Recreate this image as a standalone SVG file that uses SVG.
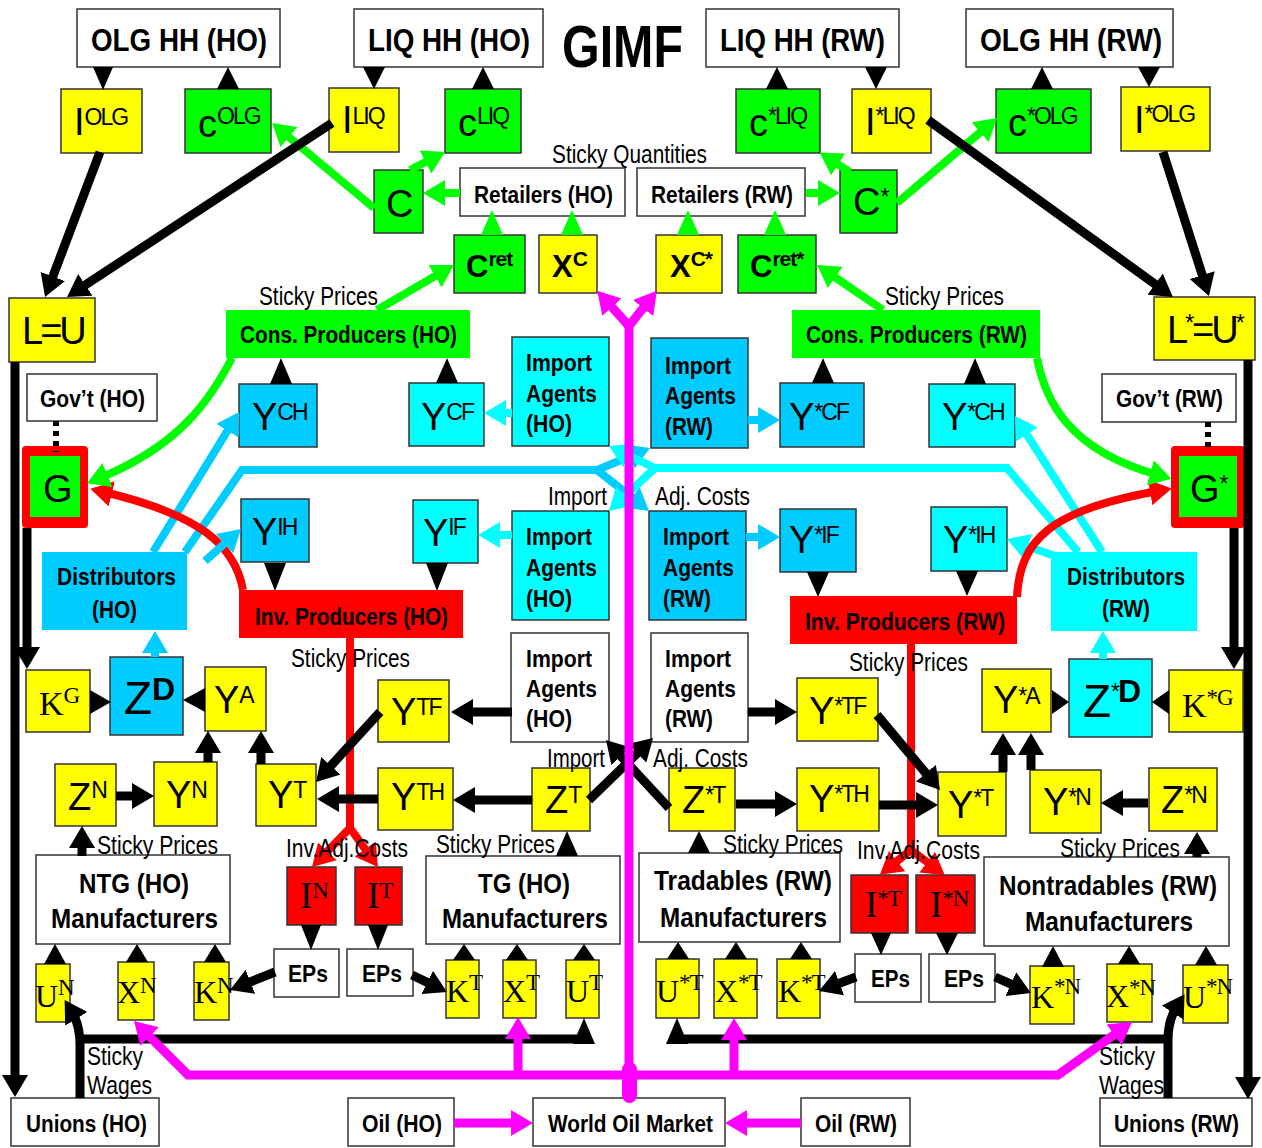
<svg xmlns="http://www.w3.org/2000/svg" width="1262" height="1148" viewBox="0 0 1262 1148">
<defs>
<style>
.bx{stroke:#333;stroke-width:1.5}
.y{fill:#ff0}.g{fill:#0f0}.b{fill:#0cf}.c{fill:#0ff}.w{fill:#fff}.r{fill:#f00}
text{font-family:"Liberation Sans",Arial,sans-serif;fill:#000}
.hh{font-weight:bold;font-size:32px}
.hb{font-weight:bold;font-size:24px}
.hm{font-weight:bold;font-size:27px}
.lb{font-size:25px}
.m{font-size:38px}
.s{font-size:23px;letter-spacing:-2px}
.mb{font-size:31px;font-weight:bold}
.sb{font-size:21px;font-weight:bold;letter-spacing:-1px}
.sf{font-family:"Liberation Serif","Times New Roman",serif}
.ms{font-size:32px}
.ss{font-size:23px;letter-spacing:-1px}
.k{stroke:#000;stroke-width:9;fill:none}
.kg{stroke:#0f0;stroke-width:8;fill:none}
.kb{stroke:#0cf;stroke-width:8;fill:none}
.kc{stroke:#0ff;stroke-width:8;fill:none}
.kr{stroke:#f00;stroke-width:8;fill:none}
.km{stroke:#f0f;stroke-width:9;fill:none}
</style>
<marker id="ak" markerUnits="userSpaceOnUse" viewBox="0 0 22 26" markerWidth="22" markerHeight="26" refX="8" refY="13" orient="auto"><path d="M0,0L22,13L0,26z" fill="#000"/></marker>
<marker id="ag" markerUnits="userSpaceOnUse" viewBox="0 0 22 26" markerWidth="22" markerHeight="26" refX="8" refY="13" orient="auto"><path d="M0,0L22,13L0,26z" fill="#0f0"/></marker>
<marker id="ab" markerUnits="userSpaceOnUse" viewBox="0 0 22 26" markerWidth="22" markerHeight="26" refX="8" refY="13" orient="auto"><path d="M0,0L22,13L0,26z" fill="#0cf"/></marker>
<marker id="ac" markerUnits="userSpaceOnUse" viewBox="0 0 22 26" markerWidth="22" markerHeight="26" refX="8" refY="13" orient="auto"><path d="M0,0L22,13L0,26z" fill="#0ff"/></marker>
<marker id="ar" markerUnits="userSpaceOnUse" viewBox="0 0 22 26" markerWidth="22" markerHeight="26" refX="8" refY="13" orient="auto"><path d="M0,0L22,13L0,26z" fill="#f00"/></marker>
<marker id="am" markerUnits="userSpaceOnUse" viewBox="0 0 22 26" markerWidth="22" markerHeight="26" refX="8" refY="13" orient="auto"><path d="M0,0L22,13L0,26z" fill="#f0f"/></marker>
</defs>
<rect width="1262" height="1148" fill="#fff"/>

<g id="nodes">
<g id="olg_ho"><rect class="bx w" x="77" y="9" width="203" height="58"/><text class="hh" x="91" y="51" textLength="176" lengthAdjust="spacingAndGlyphs">OLG HH (HO)</text></g>
<g id="liq_ho"><rect class="bx w" x="354" y="9" width="189" height="58"/><text class="hh" x="368" y="51" textLength="162" lengthAdjust="spacingAndGlyphs">LIQ HH (HO)</text></g>
<g id="title"><text x="562" y="67" font-size="60" font-weight="bold" textLength="121" lengthAdjust="spacingAndGlyphs">GIMF</text></g>
<g id="liq_rw"><rect class="bx w" x="706" y="9" width="193" height="58"/><text class="hh" x="720" y="51" textLength="165" lengthAdjust="spacingAndGlyphs">LIQ HH (RW)</text></g>
<g id="olg_rw"><rect class="bx w" x="966" y="9" width="207" height="58"/><text class="hh" x="980" y="51" textLength="182" lengthAdjust="spacingAndGlyphs">OLG HH (RW)</text></g>

<g id="i_olg"><rect class="bx y" x="61" y="89" width="81" height="64"/><text class="m" x="74" y="135">I<tspan class="s" dy="-10">OLG</tspan></text></g>
<g id="c_olg"><rect class="bx g" x="185" y="89" width="86" height="64"/><text class="m" x="198" y="137">c<tspan class="s" dy="-13">OLG</tspan></text></g>
<g id="i_liq"><rect class="bx y" x="329" y="88" width="70" height="64"/><text class="m" x="342" y="133">I<tspan class="s" dy="-9">LIQ</tspan></text></g>
<g id="c_liq"><rect class="bx g" x="445" y="89" width="76" height="64"/><text class="m" x="458" y="136">c<tspan class="s" dy="-12">LIQ</tspan></text></g>
<g id="c_sliq"><rect class="bx g" x="736" y="89" width="84" height="64"/><text class="m" x="749" y="136">c<tspan class="s" dy="-12">*LIQ</tspan></text></g>
<g id="i_sliq"><rect class="bx y" x="852" y="89" width="79" height="64"/><text class="m" x="865" y="135">I<tspan class="s" dy="-11">*LIQ</tspan></text></g>
<g id="c_solg"><rect class="bx g" x="996" y="89" width="95" height="64"/><text class="m" x="1008" y="136">c<tspan class="s" dy="-12">*OLG</tspan></text></g>
<g id="i_solg"><rect class="bx y" x="1121" y="87" width="89" height="64"/><text class="m" x="1134" y="133">I<tspan class="s" dy="-11">*OLG</tspan></text></g>

<g id="c_ho"><rect class="bx g" x="374" y="170" width="49" height="63"/><text class="m" x="386" y="217">C</text></g>
<g id="c_rw"><rect class="bx g" x="840" y="170" width="57" height="63"/><text class="m" x="853" y="215">C<tspan class="s" dy="-10">*</tspan></text></g>
<g id="ret_ho"><rect class="bx w" x="460" y="168" width="165" height="48"/><text class="hb" font-size="25" x="474" y="203" textLength="139" lengthAdjust="spacingAndGlyphs">Retailers (HO)</text></g>
<g id="ret_rw"><rect class="bx w" x="637" y="168" width="168" height="48"/><text class="hb" font-size="25" x="651" y="203" textLength="142" lengthAdjust="spacingAndGlyphs">Retailers (RW)</text></g>
<g id="cret"><rect class="bx g" x="454" y="235" width="71" height="58"/><text class="mb" x="466" y="277">C<tspan class="sb" dy="-11">ret</tspan></text></g>
<g id="xc"><rect class="bx y" x="539" y="235" width="58" height="58"/><text class="mb" x="552" y="277">X<tspan class="sb" dy="-11">C</tspan></text></g>
<g id="xcs"><rect class="bx y" x="656" y="235" width="66" height="58"/><text class="mb" x="670" y="277">X<tspan class="sb" dy="-11">C*</tspan></text></g>
<g id="crets"><rect class="bx g" x="738" y="235" width="78" height="58"/><text class="mb" x="750" y="277">C<tspan class="sb" dy="-11">ret*</tspan></text></g>

<g id="cons_ho"><rect class="g" x="226" y="310" width="244" height="48"/><text class="hb" x="240" y="343" textLength="217" lengthAdjust="spacingAndGlyphs">Cons. Producers (HO)</text></g>
<g id="cons_rw"><rect class="g" x="792" y="310" width="248" height="48"/><text class="hb" x="806" y="343" textLength="221" lengthAdjust="spacingAndGlyphs">Cons. Producers (RW)</text></g>
<g id="lu_ho"><rect class="bx y" x="9" y="298" width="86" height="64"/><text class="m" x="22" y="344" letter-spacing="-3">L=U</text></g>
<g id="lu_rw"><rect class="bx y" x="1154" y="297" width="101" height="63"/><text class="m" x="1167" y="343" letter-spacing="-3">L<tspan class="s" dy="-12">*</tspan><tspan dy="12">=U</tspan><tspan class="s" dy="-12">*</tspan></text></g>

<g id="gov_ho"><rect class="bx w" x="27" y="374" width="130" height="47"/><text class="hb" x="40" y="407" textLength="105" lengthAdjust="spacingAndGlyphs">Gov’t (HO)</text></g>
<g id="gov_rw"><rect class="bx w" x="1102" y="374" width="134" height="48"/><text class="hb" x="1116" y="407" textLength="107" lengthAdjust="spacingAndGlyphs">Gov’t (RW)</text></g>
<g id="g_ho"><rect class="r" x="22" y="446" width="66" height="82" rx="4"/><rect class="g" x="30" y="456" width="50" height="61"/><text class="m" x="43" y="502">G</text></g>
<g id="g_rw"><rect class="r" x="1171" y="446" width="74" height="82" rx="4"/><rect class="g" x="1179" y="456" width="58" height="61"/><text class="m" x="1190" y="502">G<tspan class="s" dy="-10">*</tspan></text></g>

<g id="ych"><rect class="bx b" x="239" y="384" width="78" height="63"/><text class="m" x="252" y="430">Y<tspan class="s" dy="-10">CH</tspan></text></g>
<g id="ycf"><rect class="bx c" x="409" y="383" width="75" height="63"/><text class="m" x="421" y="430">Y<tspan class="s" dy="-10">CF</tspan></text></g>
<g id="ia_ho1"><rect class="bx c" x="512" y="337" width="97" height="109"/><text class="hb" x="526" y="371" textLength="66" lengthAdjust="spacingAndGlyphs">Import</text><text class="hb" x="526" y="402" textLength="71" lengthAdjust="spacingAndGlyphs">Agents</text><text class="hb" x="526" y="432" textLength="46" lengthAdjust="spacingAndGlyphs">(HO)</text></g>
<g id="ia_rw1"><rect class="bx b" x="651" y="338" width="97" height="110"/><text class="hb" x="665" y="374" textLength="66" lengthAdjust="spacingAndGlyphs">Import</text><text class="hb" x="665" y="404" textLength="71" lengthAdjust="spacingAndGlyphs">Agents</text><text class="hb" x="665" y="435" textLength="48" lengthAdjust="spacingAndGlyphs">(RW)</text></g>
<g id="yscf"><rect class="bx b" x="780" y="383" width="84" height="64"/><text class="m" x="789" y="430">Y<tspan class="s" dy="-10">*CF</tspan></text></g>
<g id="ysch"><rect class="bx c" x="929" y="384" width="86" height="63"/><text class="m" x="942" y="430">Y<tspan class="s" dy="-10">*CH</tspan></text></g>

<g id="dist_ho"><rect class="b" x="42" y="552" width="145" height="78"/><text class="hb" x="57" y="585" textLength="119" lengthAdjust="spacingAndGlyphs">Distributors</text><text class="hb" x="92" y="618" textLength="45" lengthAdjust="spacingAndGlyphs">(HO)</text></g>
<g id="yih"><rect class="bx b" x="241" y="499" width="68" height="63"/><text class="m" x="252" y="545">Y<tspan class="s" dy="-10">IH</tspan></text></g>
<g id="yif"><rect class="bx c" x="413" y="500" width="65" height="63"/><text class="m" x="423" y="546">Y<tspan class="s" dy="-11">IF</tspan></text></g>
<g id="ia_ho2"><rect class="bx c" x="512" y="511" width="97" height="109"/><text class="hb" x="526" y="545" textLength="66" lengthAdjust="spacingAndGlyphs">Import</text><text class="hb" x="526" y="576" textLength="71" lengthAdjust="spacingAndGlyphs">Agents</text><text class="hb" x="526" y="607" textLength="46" lengthAdjust="spacingAndGlyphs">(HO)</text></g>
<g id="ia_rw2"><rect class="bx b" x="649" y="511" width="97" height="109"/><text class="hb" x="663" y="545" textLength="66" lengthAdjust="spacingAndGlyphs">Import</text><text class="hb" x="663" y="576" textLength="71" lengthAdjust="spacingAndGlyphs">Agents</text><text class="hb" x="663" y="607" textLength="48" lengthAdjust="spacingAndGlyphs">(RW)</text></g>
<g id="ysif"><rect class="bx b" x="780" y="509" width="76" height="63"/><text class="m" x="789" y="553">Y<tspan class="s" dy="-10">*IF</tspan></text></g>
<g id="ysih"><rect class="bx c" x="931" y="507" width="76" height="64"/><text class="m" x="943" y="553">Y<tspan class="s" dy="-10">*IH</tspan></text></g>
<g id="dist_rw"><rect class="c" x="1051" y="552" width="146" height="79"/><text class="hb" x="1067" y="585" textLength="118" lengthAdjust="spacingAndGlyphs">Distributors</text><text class="hb" x="1102" y="617" textLength="48" lengthAdjust="spacingAndGlyphs">(RW)</text></g>
<g id="inv_ho"><rect class="r" x="239" y="590" width="224" height="48"/><text class="hb" x="255" y="625" textLength="193" lengthAdjust="spacingAndGlyphs">Inv. Producers (HO)</text></g>
<g id="inv_rw"><rect class="r" x="790" y="596" width="227" height="48"/><text class="hb" x="805" y="630" textLength="200" lengthAdjust="spacingAndGlyphs">Inv. Producers (RW)</text></g>

<g id="kg"><rect class="bx y" x="26" y="670" width="64" height="62"/><text class="sf" font-size="34" x="39" y="715">K<tspan class="ss" font-size="25" dy="-12">G</tspan></text></g>
<g id="zd"><rect class="bx b" x="110" y="657" width="73" height="78"/><text font-size="46" x="124" y="714">Z<tspan font-size="32" font-weight="bold" dy="-14">D</tspan></text></g>
<g id="ya"><rect class="bx y" x="205" y="667" width="61" height="64"/><text class="m" x="214" y="713">Y<tspan class="s" dy="-10">A</tspan></text></g>
<g id="ytf"><rect class="bx y" x="378" y="680" width="71" height="62"/><text class="m" x="391" y="725">Y<tspan class="s" dy="-10">TF</tspan></text></g>
<g id="ia_ho3"><rect class="bx w" x="511" y="633" width="98" height="109"/><text class="hb" x="526" y="667" textLength="66" lengthAdjust="spacingAndGlyphs">Import</text><text class="hb" x="526" y="697" textLength="71" lengthAdjust="spacingAndGlyphs">Agents</text><text class="hb" x="526" y="727" textLength="46" lengthAdjust="spacingAndGlyphs">(HO)</text></g>
<g id="ia_rw3"><rect class="bx w" x="651" y="633" width="97" height="109"/><text class="hb" x="665" y="667" textLength="66" lengthAdjust="spacingAndGlyphs">Import</text><text class="hb" x="665" y="697" textLength="71" lengthAdjust="spacingAndGlyphs">Agents</text><text class="hb" x="665" y="727" textLength="48" lengthAdjust="spacingAndGlyphs">(RW)</text></g>
<g id="ystf"><rect class="bx y" x="797" y="678" width="81" height="63"/><text class="m" x="809" y="724">Y<tspan class="s" dy="-10">*TF</tspan></text></g>
<g id="ysa"><rect class="bx y" x="982" y="669" width="69" height="63"/><text class="m" x="993" y="713">Y<tspan class="s" dy="-9">*A</tspan></text></g>
<g id="zsd"><rect class="bx c" x="1069" y="659" width="83" height="78"/><text font-size="46" x="1083" y="717">Z<tspan class="s" dy="-17">*</tspan><tspan font-size="32" font-weight="bold" dy="2">D</tspan></text></g>
<g id="ksg"><rect class="bx y" x="1169" y="670" width="74" height="62"/><text class="sf" font-size="34" x="1182" y="717">K<tspan class="ss" font-size="25" dy="-12">*G</tspan></text></g>

<g id="zn"><rect class="bx y" x="55" y="764" width="61" height="62"/><text class="m" x="68" y="810">Z<tspan class="s" dy="-12">N</tspan></text></g>
<g id="yn"><rect class="bx y" x="154" y="762" width="63" height="64"/><text class="m" x="166" y="808">Y<tspan class="s" dy="-10">N</tspan></text></g>
<g id="yt"><rect class="bx y" x="256" y="764" width="60" height="62"/><text class="m" x="268" y="808">Y<tspan class="s" dy="-10">T</tspan></text></g>
<g id="yth"><rect class="bx y" x="378" y="768" width="75" height="62"/><text class="m" x="391" y="810">Y<tspan class="s" dy="-10">TH</tspan></text></g>
<g id="zt"><rect class="bx y" x="532" y="768" width="58" height="63"/><text class="m" x="545" y="813">Z<tspan class="s" dy="-10">T</tspan></text></g>
<g id="zst"><rect class="bx y" x="669" y="768" width="66" height="63"/><text class="m" x="682" y="813">Z<tspan class="s" dy="-10">*T</tspan></text></g>
<g id="ysth"><rect class="bx y" x="797" y="768" width="82" height="63"/><text class="m" x="809" y="812">Y<tspan class="s" dy="-10">*TH</tspan></text></g>
<g id="yst"><rect class="bx y" x="938" y="772" width="68" height="64"/><text class="m" x="948" y="818">Y<tspan class="s" dy="-12">*T</tspan></text></g>
<g id="ysn"><rect class="bx y" x="1030" y="770" width="71" height="63"/><text class="m" x="1043" y="815">Y<tspan class="s" dy="-10">*N</tspan></text></g>
<g id="zsn"><rect class="bx y" x="1149" y="768" width="68" height="63"/><text class="m" x="1161" y="813">Z<tspan class="s" dy="-10">*N</tspan></text></g>

<g id="ntg"><rect class="bx w" x="36" y="855" width="194" height="89"/><text class="hm" x="79" y="893" textLength="110" lengthAdjust="spacingAndGlyphs">NTG (HO)</text><text class="hm" x="51" y="928" textLength="167" lengthAdjust="spacingAndGlyphs">Manufacturers</text></g>
<g id="tg"><rect class="bx w" x="426" y="856" width="194" height="88"/><text class="hm" x="478" y="893" textLength="92" lengthAdjust="spacingAndGlyphs">TG (HO)</text><text class="hm" x="442" y="928" textLength="166" lengthAdjust="spacingAndGlyphs">Manufacturers</text></g>
<g id="trad"><rect class="bx w" x="639" y="853" width="201" height="89"/><text class="hm" x="654" y="890" textLength="178" lengthAdjust="spacingAndGlyphs">Tradables (RW)</text><text class="hm" x="660" y="927" textLength="167" lengthAdjust="spacingAndGlyphs">Manufacturers</text></g>
<g id="nontrad"><rect class="bx w" x="984" y="857" width="245" height="89"/><text class="hm" x="999" y="895" textLength="218" lengthAdjust="spacingAndGlyphs">Nontradables (RW)</text><text class="hm" x="1025" y="931" textLength="168" lengthAdjust="spacingAndGlyphs">Manufacturers</text></g>

<g id="in"><rect class="bx r" x="287" y="867" width="49" height="58"/><text class="sf" font-size="37" x="300" y="908">I<tspan class="ss" dy="-10">N</tspan></text></g>
<g id="it"><rect class="bx r" x="355" y="867" width="47" height="58"/><text class="sf" font-size="37" x="367" y="908">I<tspan class="ss" dy="-10">T</tspan></text></g>
<g id="ist"><rect class="bx r" x="851" y="875" width="57" height="58"/><text class="sf" font-size="37" x="865" y="917">I<tspan class="ss" dy="-11">*T</tspan></text></g>
<g id="isn"><rect class="bx r" x="916" y="875" width="59" height="58"/><text class="sf" font-size="37" x="930" y="917">I<tspan class="ss" dy="-11">*N</tspan></text></g>

<g id="un"><rect class="bx y" x="36" y="964" width="34" height="58"/><text class="sf ms" x="35" y="1007">U<tspan class="ss" dy="-12">N</tspan></text></g>
<g id="xn"><rect class="bx y" x="118" y="962" width="36" height="58"/><text class="sf ms" x="117" y="1003">X<tspan class="ss" dy="-10">N</tspan></text></g>
<g id="kn"><rect class="bx y" x="194" y="962" width="35" height="58"/><text class="sf ms" x="194" y="1003">K<tspan class="ss" dy="-10">N</tspan></text></g>
<g id="eps1"><rect class="bx w" x="274" y="949" width="65" height="48"/><text class="hb" x="288" y="982" textLength="40" lengthAdjust="spacingAndGlyphs">EPs</text></g>
<g id="eps2"><rect class="bx w" x="347" y="949" width="66" height="47"/><text class="hb" x="362" y="982" textLength="40" lengthAdjust="spacingAndGlyphs">EPs</text></g>
<g id="kt"><rect class="bx y" x="446" y="960" width="33" height="58"/><text class="sf ms" x="446" y="1002">K<tspan class="ss" dy="-12">T</tspan></text></g>
<g id="xt"><rect class="bx y" x="503" y="960" width="33" height="58"/><text class="sf ms" x="503" y="1002">X<tspan class="ss" dy="-12">T</tspan></text></g>
<g id="ut"><rect class="bx y" x="566" y="960" width="33" height="58"/><text class="sf ms" x="566" y="1002">U<tspan class="ss" dy="-12">T</tspan></text></g>
<g id="ust"><rect class="bx y" x="656" y="959" width="43" height="59"/><text class="sf ms" x="656" y="1002">U<tspan class="ss" dy="-12">*T</tspan></text></g>
<g id="xst"><rect class="bx y" x="714" y="959" width="43" height="59"/><text class="sf ms" x="715" y="1002">X<tspan class="ss" dy="-12">*T</tspan></text></g>
<g id="kst"><rect class="bx y" x="777" y="959" width="43" height="59"/><text class="sf ms" x="778" y="1002">K<tspan class="ss" dy="-12">*T</tspan></text></g>
<g id="eps3"><rect class="bx w" x="855" y="954" width="66" height="48"/><text class="hb" x="871" y="987" textLength="39" lengthAdjust="spacingAndGlyphs">EPs</text></g>
<g id="eps4"><rect class="bx w" x="929" y="954" width="66" height="48"/><text class="hb" x="944" y="987" textLength="40" lengthAdjust="spacingAndGlyphs">EPs</text></g>
<g id="ksn"><rect class="bx y" x="1030" y="966" width="44" height="58"/><text class="sf ms" x="1031" y="1008">K<tspan class="ss" dy="-14">*N</tspan></text></g>
<g id="xsn"><rect class="bx y" x="1107" y="964" width="45" height="58"/><text class="sf ms" x="1106" y="1007">X<tspan class="ss" dy="-12">*N</tspan></text></g>
<g id="usn"><rect class="bx y" x="1183" y="965" width="45" height="58"/><text class="sf ms" x="1183" y="1008">U<tspan class="ss" dy="-14">*N</tspan></text></g>

<g id="unions_ho"><rect class="bx w" x="11" y="1098" width="148" height="48"/><text class="hb" x="26" y="1132" textLength="121" lengthAdjust="spacingAndGlyphs">Unions (HO)</text></g>
<g id="oil_ho"><rect class="bx w" x="348" y="1098" width="106" height="48"/><text class="hb" x="362" y="1132" textLength="80" lengthAdjust="spacingAndGlyphs">Oil (HO)</text></g>
<g id="wom"><rect class="bx w" x="533" y="1098" width="192" height="48"/><text class="hb" x="548" y="1132" textLength="165" lengthAdjust="spacingAndGlyphs">World Oil Market</text></g>
<g id="oil_rw"><rect class="bx w" x="801" y="1098" width="109" height="48"/><text class="hb" x="815" y="1132" textLength="82" lengthAdjust="spacingAndGlyphs">Oil (RW)</text></g>
<g id="unions_rw"><rect class="bx w" x="1100" y="1098" width="152" height="48"/><text class="hb" x="1114" y="1132" textLength="125" lengthAdjust="spacingAndGlyphs">Unions (RW)</text></g>
</g>

<g id="connectors">
<path class="kb" d="M153,552L231.7,423.9" marker-end="url(#ab)"/>
<path class="kb" d="M185,552L242,470L597,470L637.1,453.4" marker-end="url(#ab)"/>
<path class="kb" d="M597,470L638,502.3" marker-end="url(#ab)"/>
<path class="kc" d="M1078,552L1007,468L655,468L621.6,452" marker-end="url(#ac)"/>
<path class="kc" d="M655,468L619.2,501.4" marker-end="url(#ac)"/>
<path class="kc" d="M1102,552L1022.5,427.8" marker-end="url(#ac)"/>
<path class="kc" d="M512,413L498,413" marker-end="url(#ac)"/>
<path class="kb" d="M748,420L766,420" marker-end="url(#ab)"/>
<path class="kc" d="M512,535L492,535" marker-end="url(#ac)"/>
<path class="kb" d="M746,537L766,537" marker-end="url(#ab)"/>
<path class="kc" d="M1055,556L1020.2,543.7" marker-end="url(#ac)"/>
<path class="kb" d="M155,657L155,645" marker-end="url(#ab)"/>
<path class="kc" d="M1103,659L1103,645" marker-end="url(#ac)"/>
<path class="kr" d="M243,590C235,545 200,515 104,492" marker-end="url(#ar)"/>
<path class="kr" d="M1017,597C1020,540 1050,510 1158,491" marker-end="url(#ar)"/>
<path class="kb" d="M205,561L230.5,538.3" marker-end="url(#ab)"/>
<path class="kr" d="M350,638L350,828"/>
<path class="kr" d="M350,828L321.8,857" marker-end="url(#ar)"/>
<path class="kr" d="M350,828L369.8,855.6" marker-end="url(#ar)"/>
<path class="kr" d="M911,644L911,850"/>
<path class="kr" d="M911,850L890.8,866" marker-end="url(#ar)"/>
<path class="kr" d="M911,850L933.6,866.9" marker-end="url(#ar)"/>
<path class="kg" d="M460,193L437,193" marker-end="url(#ag)"/>
<path class="kg" d="M806,193L826,193" marker-end="url(#ag)"/>
<path class="kg" d="M374,208L282.8,132" marker-end="url(#ag)"/>
<path class="kg" d="M410,170L432.6,158.4" marker-end="url(#ag)"/>
<path class="kg" d="M850,172L831.4,160.1" marker-end="url(#ag)"/>
<path class="kg" d="M897,203L986.3,127.1" marker-end="url(#ag)"/>
<path class="kg" d="M377,310L441.9,272.1" marker-end="url(#ag)"/>
<path class="kg" d="M883,310L828.6,272.9" marker-end="url(#ag)"/>
<path class="kg" d="M232,358C210,400 180,445 100,478" marker-end="url(#ag)"/>
<path class="kg" d="M1037,358C1045,400 1068,450 1158,475" marker-end="url(#ag)"/>
<g fill="#0f0">
<polygon points="481,235 503,235 492,210"/>
<polygon points="561,235 583,235 572,210"/>
<polygon points="677,235 699,235 688,210"/>
<polygon points="764,235 786,235 775,210"/>
</g>
<path class="k" d="M100,152L50,284" marker-end="url(#ak)"/>
<path class="k" d="M332,123L78.7,289.3" marker-end="url(#ak)"/>
<path class="k" d="M928,120L1161.6,288.8" marker-end="url(#ak)"/>
<path class="k" d="M1163,152L1204.7,282.7" marker-end="url(#ak)"/>
<path class="k" d="M15,362L15,1083" marker-end="url(#ak)"/>
<path class="k" d="M27,528L27,655" marker-end="url(#ak)"/>
<path class="k" d="M1248,360L1248,1085" marker-end="url(#ak)"/>
<path class="k" d="M1234,528L1234,655" marker-end="url(#ak)"/>
<path class="k" d="M208,762L208,745" marker-end="url(#ak)"/>
<path class="k" d="M261,764L261,745" marker-end="url(#ak)"/>
<path class="k" d="M380,712L325.5,771.7" marker-end="url(#ak)"/>
<path class="k" d="M378,799L331,799" marker-end="url(#ak)"/>
<path class="k" d="M116,796L140,796" marker-end="url(#ak)"/>
<path class="k" d="M512,712L465,712" marker-end="url(#ak)"/>
<path class="k" d="M748,712L783,712" marker-end="url(#ak)"/>
<path class="k" d="M532,800L467,800" marker-end="url(#ak)"/>
<path class="k" d="M589,800L643,747.7" marker-end="url(#ak)"/>
<path class="k" d="M669,808L615.5,750.3" marker-end="url(#ak)"/>
<path class="k" d="M736,804L783,804" marker-end="url(#ak)"/>
<path class="k" d="M879,805L924,805" marker-end="url(#ak)"/>
<path class="k" d="M877,715L931,779.3" marker-end="url(#ak)"/>
<path class="k" d="M1148,803L1115,803" marker-end="url(#ak)"/>
<path class="k" d="M1003,772L1003,747" marker-end="url(#ak)"/>
<path class="k" d="M1031,770L1031,747" marker-end="url(#ak)"/>
<path class="k" d="M82,856L82,840" marker-end="url(#ak)"/>
<path class="k" d="M1197,857L1197,846" marker-end="url(#ak)"/>
<path class="k" d="M275,972L243,984.8" marker-end="url(#ak)"/>
<path class="k" d="M412,975L434.4,985.9" marker-end="url(#ak)"/>
<path class="k" d="M856,977L832.1,986" marker-end="url(#ak)"/>
<path class="k" d="M995,977L1018.2,987.3" marker-end="url(#ak)"/>
<path class="k" d="M80,1098L80,1045Q80,1025 72,1012" marker-end="url(#ak)"/>
<path class="k" d="M80,1039L584,1039"/>
<path class="k" d="M1168,1098L1168,1040Q1168,1020 1177,1006" marker-end="url(#ak)"/>
<path class="k" d="M1168,1039L677,1039"/>
<path d="M56,421L56,452M1208,422L1208,452" stroke="#000" stroke-width="6" stroke-dasharray="5,5" fill="none"/>
<g fill="#000">
<polygon points="93,67 113,67 103,90"/>
<polygon points="217,89 239,89 228,67"/>
<polygon points="363,67 385,67 374,89"/>
<polygon points="472,89 494,89 483,67"/>
<polygon points="766,89 788,89 777,67"/>
<polygon points="865,67 887,67 876,89"/>
<polygon points="1031,89 1053,89 1042,67"/>
<polygon points="1138,67 1160,67 1149,87"/>
<polygon points="270,384 292,384 281,358"/>
<polygon points="436,383 458,383 447,358"/>
<polygon points="812,383 834,383 823,358"/>
<polygon points="964,384 986,384 975,358"/>
<polygon points="264,563 286,563 275,591"/>
<polygon points="426,563 448,563 437,591"/>
<polygon points="807,572 829,572 818,597"/>
<polygon points="956,571 978,571 967,596"/>
<polygon points="90,690 90,714 111,702"/>
<polygon points="205,688 205,712 183,700"/>
<polygon points="1052,690 1052,714 1069,702"/>
<polygon points="1169,690 1169,714 1152,702"/>
<polygon points="301,925 321,925 311,950"/>
<polygon points="368,925 388,925 378,950"/>
<polygon points="871,933 891,933 881,955"/>
<polygon points="936,933 958,933 947,955"/>
<polygon points="44,964 66,964 55,944"/>
<polygon points="126,962 148,962 137,944"/>
<polygon points="204,962 226,962 215,944"/>
<polygon points="453,960 475,960 464,944"/>
<polygon points="506,960 528,960 517,944"/>
<polygon points="573,960 595,960 584,944"/>
<polygon points="667,959 689,959 678,942"/>
<polygon points="725,959 747,959 736,942"/>
<polygon points="790,959 812,959 801,942"/>
<polygon points="1042,967 1064,967 1053,946"/>
<polygon points="1118,964 1140,964 1129,946"/>
<polygon points="1195,965 1217,965 1206,946"/>
<polygon points="556,856 578,856 567,831"/>
<polygon points="688,853 710,853 699,831"/>
<polygon points="573,1044 595,1044 584,1018"/>
<polygon points="666,1044 688,1044 677,1018"/>
</g>
<path class="km" d="M629,325L629,1075" stroke-width="8"/>
<path class="km" d="M629,326L606.6,301.2" marker-end="url(#am)"/>
<path class="km" d="M629,326L648.1,301.8" marker-end="url(#am)"/>
<path class="km" d="M629,1075L188,1075L143.9,1030.9" marker-end="url(#am)"/>
<path class="km" d="M629,1075L1058,1075L1120.6,1030.2" marker-end="url(#am)"/>
<path class="km" d="M518,1075L518,1031" marker-end="url(#am)"/>
<path class="km" d="M734,1075L734,1032" marker-end="url(#am)"/>
<path class="km" d="M454,1123L519,1123" marker-end="url(#am)"/>
<path class="km" d="M801,1123L739,1123" marker-end="url(#am)"/>
<rect x="622" y="1062" width="15" height="41" rx="7.5" fill="#f0f"/>
</g>

<g id="labels">
<text class="lb" x="552" y="163" textLength="155" lengthAdjust="spacingAndGlyphs">Sticky Quantities</text>
<text class="lb" x="259" y="305" textLength="119" lengthAdjust="spacingAndGlyphs">Sticky Prices</text>
<text class="lb" x="885" y="305" textLength="119" lengthAdjust="spacingAndGlyphs">Sticky Prices</text>
<text class="lb" x="291" y="667" textLength="119" lengthAdjust="spacingAndGlyphs">Sticky Prices</text>
<text class="lb" x="849" y="671" textLength="119" lengthAdjust="spacingAndGlyphs">Sticky Prices</text>
<text class="lb" x="548" y="505" textLength="59" lengthAdjust="spacingAndGlyphs">Import</text>
<text class="lb" x="655" y="505" textLength="95" lengthAdjust="spacingAndGlyphs">Adj. Costs</text>
<text class="lb" x="547" y="767" textLength="58" lengthAdjust="spacingAndGlyphs">Import</text>
<text class="lb" x="653" y="767" textLength="95" lengthAdjust="spacingAndGlyphs">Adj. Costs</text>
<text class="lb" x="286" y="857" textLength="122" lengthAdjust="spacingAndGlyphs">Inv.Adj.Costs</text>
<text class="lb" x="857" y="859" textLength="123" lengthAdjust="spacingAndGlyphs">Inv.Adj.Costs</text>
<text class="lb" x="97" y="854" textLength="121" lengthAdjust="spacingAndGlyphs">Sticky Prices</text>
<text class="lb" x="436" y="853" textLength="119" lengthAdjust="spacingAndGlyphs">Sticky Prices</text>
<text class="lb" x="723" y="853" textLength="120" lengthAdjust="spacingAndGlyphs">Sticky Prices</text>
<text class="lb" x="1060" y="857" textLength="120" lengthAdjust="spacingAndGlyphs">Sticky Prices</text>
<text class="lb" x="87" y="1065" textLength="56" lengthAdjust="spacingAndGlyphs">Sticky</text>
<text class="lb" x="87" y="1094" textLength="65" lengthAdjust="spacingAndGlyphs">Wages</text>
<text class="lb" x="1099" y="1065" textLength="56" lengthAdjust="spacingAndGlyphs">Sticky</text>
<text class="lb" x="1099" y="1094" textLength="65" lengthAdjust="spacingAndGlyphs">Wages</text>
</g>
</svg>
